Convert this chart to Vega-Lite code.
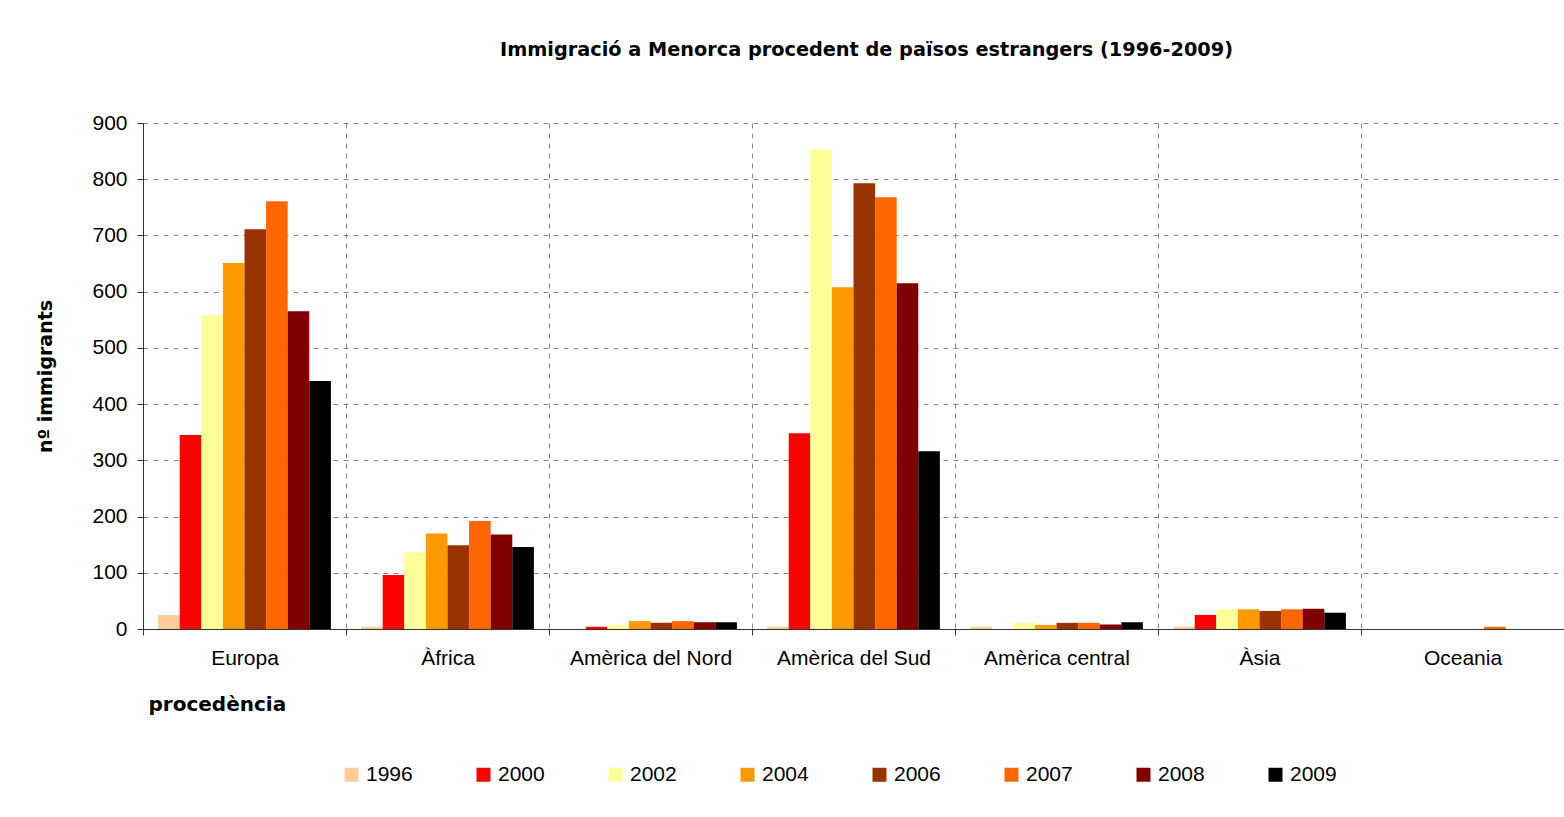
{
  "$schema": "https://vega.github.io/schema/vega-lite/v6.json",
  "autosize": {"type": "none"},
  "padding": {"left": 143, "top": 123, "right": 0, "bottom": 188},
  "width": 1421,
  "height": 506,
  "background": "white",
  "title": {
    "text": "Immigració a Menorca procedent de països estrangers (1996-2009)",
    "font": "DejaVu Sans",
    "fontSize": 19.3,
    "fontWeight": "bold",
    "color": "black",
    "anchor": "middle",
    "frame": "group",
    "baseline": "alphabetic",
    "offset": 37,
    "dx": 13
  },
  "data": {
    "values": [
      {"region": "Europa", "year": "1996", "value": 25},
      {"region": "Europa", "year": "2000", "value": 345},
      {"region": "Europa", "year": "2002", "value": 558},
      {"region": "Europa", "year": "2004", "value": 651},
      {"region": "Europa", "year": "2006", "value": 711},
      {"region": "Europa", "year": "2007", "value": 761},
      {"region": "Europa", "year": "2008", "value": 565},
      {"region": "Europa", "year": "2009", "value": 441},
      {"region": "Àfrica", "year": "1996", "value": 4},
      {"region": "Àfrica", "year": "2000", "value": 96},
      {"region": "Àfrica", "year": "2002", "value": 136},
      {"region": "Àfrica", "year": "2004", "value": 170},
      {"region": "Àfrica", "year": "2006", "value": 149},
      {"region": "Àfrica", "year": "2007", "value": 192},
      {"region": "Àfrica", "year": "2008", "value": 168},
      {"region": "Àfrica", "year": "2009", "value": 146},
      {"region": "Amèrica del Nord", "year": "1996", "value": 0},
      {"region": "Amèrica del Nord", "year": "2000", "value": 4},
      {"region": "Amèrica del Nord", "year": "2002", "value": 7},
      {"region": "Amèrica del Nord", "year": "2004", "value": 14},
      {"region": "Amèrica del Nord", "year": "2006", "value": 11},
      {"region": "Amèrica del Nord", "year": "2007", "value": 14},
      {"region": "Amèrica del Nord", "year": "2008", "value": 12},
      {"region": "Amèrica del Nord", "year": "2009", "value": 12},
      {"region": "Amèrica del Sud", "year": "1996", "value": 4},
      {"region": "Amèrica del Sud", "year": "2000", "value": 348},
      {"region": "Amèrica del Sud", "year": "2002", "value": 853},
      {"region": "Amèrica del Sud", "year": "2004", "value": 608},
      {"region": "Amèrica del Sud", "year": "2006", "value": 793},
      {"region": "Amèrica del Sud", "year": "2007", "value": 768},
      {"region": "Amèrica del Sud", "year": "2008", "value": 615},
      {"region": "Amèrica del Sud", "year": "2009", "value": 316},
      {"region": "Amèrica central", "year": "1996", "value": 4},
      {"region": "Amèrica central", "year": "2000", "value": 0},
      {"region": "Amèrica central", "year": "2002", "value": 11},
      {"region": "Amèrica central", "year": "2004", "value": 7},
      {"region": "Amèrica central", "year": "2006", "value": 11},
      {"region": "Amèrica central", "year": "2007", "value": 11},
      {"region": "Amèrica central", "year": "2008", "value": 8},
      {"region": "Amèrica central", "year": "2009", "value": 12},
      {"region": "Àsia", "year": "1996", "value": 4},
      {"region": "Àsia", "year": "2000", "value": 25},
      {"region": "Àsia", "year": "2002", "value": 35},
      {"region": "Àsia", "year": "2004", "value": 35},
      {"region": "Àsia", "year": "2006", "value": 32},
      {"region": "Àsia", "year": "2007", "value": 35},
      {"region": "Àsia", "year": "2008", "value": 36},
      {"region": "Àsia", "year": "2009", "value": 29},
      {"region": "Oceania", "year": "1996", "value": 0},
      {"region": "Oceania", "year": "2000", "value": 0},
      {"region": "Oceania", "year": "2002", "value": 0},
      {"region": "Oceania", "year": "2004", "value": 0},
      {"region": "Oceania", "year": "2006", "value": 0},
      {"region": "Oceania", "year": "2007", "value": 4},
      {"region": "Oceania", "year": "2008", "value": 0},
      {"region": "Oceania", "year": "2009", "value": 0}
    ]
  },
  "mark": {"type": "bar"},
  "encoding": {
    "x": {
      "field": "region",
      "type": "nominal",
      "sort": ["Europa", "Àfrica", "Amèrica del Nord", "Amèrica del Sud", "Amèrica central", "Àsia", "Oceania"],
      "scale": {"paddingInner": 0, "paddingOuter": 0},
      "axis": {
        "title": "procedència",
        "labelAngle": 0,
        "labelFont": "Liberation Sans",
        "labelFontSize": 21,
        "labelColor": "black",
        "labelPadding": 12,
        "tickBand": "extent",
        "tickSize": 6,
        "tickColor": "#333",
        "domainColor": "#333",
        "grid": true,
        "gridDash": [5, 5],
        "gridColor": "#888",
        "titleFont": "DejaVu Sans",
        "titleFontSize": 20,
        "titleFontWeight": "bold",
        "titleColor": "black",
        "titleAnchor": "start",
        "titleAlign": "left",
        "titleBaseline": "alphabetic",
        "titleX": 5,
        "titleY": 81
      }
    },
    "xOffset": {"field": "year", "type": "nominal", "scale": {"paddingInner": 0, "paddingOuter": 0.7}},
    "y": {
      "field": "value",
      "type": "quantitative",
      "scale": {"domain": [0, 900], "nice": false},
      "axis": {
        "title": "nº immigrants",
        "values": [0, 100, 200, 300, 400, 500, 600, 700, 800, 900],
        "labelFont": "Liberation Sans",
        "labelFontSize": 21,
        "labelColor": "black",
        "labelPadding": 10,
        "tickSize": 6,
        "tickColor": "#333",
        "domainColor": "#333",
        "gridDash": [5, 5],
        "gridColor": "#888",
        "titleFont": "DejaVu Sans",
        "titleFontSize": 19,
        "titleFontWeight": "bold",
        "titleColor": "black",
        "titlePadding": 36
      }
    },
    "color": {
      "field": "year",
      "type": "nominal",
      "scale": {
        "domain": ["1996", "2000", "2002", "2004", "2006", "2007", "2008", "2009"],
        "range": ["#FFCC99", "#FF0000", "#FFFF99", "#FF9900", "#993300", "#FF6600", "#800000", "#000000"]
      },
      "legend": {
        "title": null,
        "orient": "none",
        "direction": "horizontal",
        "columns": 8,
        "legendX": 198,
        "legendY": 641,
        "symbolType": "square",
        "symbolSize": 196,
        "symbolStrokeWidth": 0,
        "symbolOpacity": 1,
        "labelFont": "Liberation Sans",
        "labelFontSize": 21,
        "labelColor": "black",
        "labelOffset": 4,
        "columnPadding": 60
      }
    }
  },
  "config": {"view": {"stroke": null}}
}
